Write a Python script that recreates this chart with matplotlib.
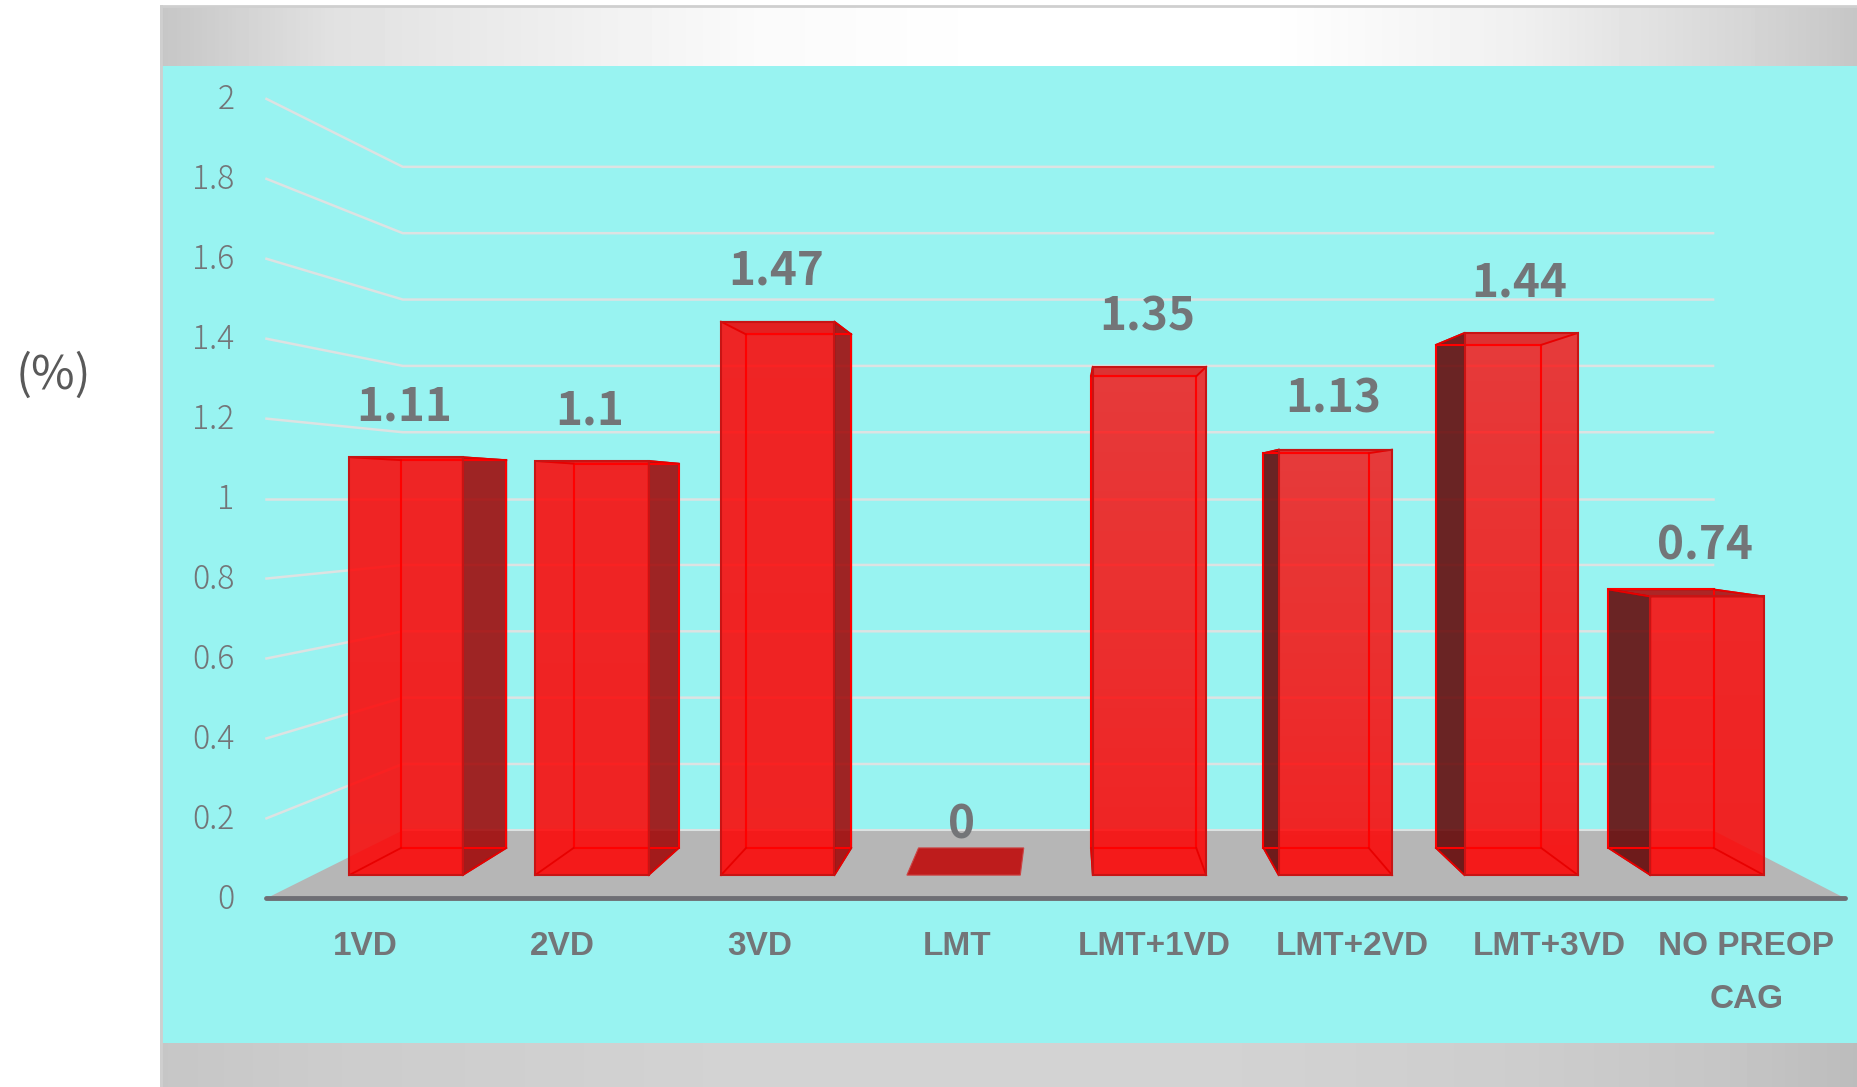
import matplotlib
matplotlib.use('Agg')
import matplotlib.pyplot as plt
from matplotlib.patches import Polygon, Rectangle
import numpy as np

# data
categories = ['1VD', '2VD', '3VD', 'LMT', 'LMT+1VD', 'LMT+2VD', 'LMT+3VD', 'NO PREOP\nCAG']
values = [1.11, 1.1, 1.47, 0, 1.35, 1.13, 1.44, 0.74]
value_labels = ['1.11', '1.1', '1.47', '0', '1.35', '1.13', '1.44', '0.74']
ticks = [0, 0.2, 0.4, 0.6, 0.8, 1, 1.2, 1.4, 1.6, 1.8, 2]
tick_labels = ['0', '0.2', '0.4', '0.6', '0.8', '1', '1.2', '1.4', '1.6', '1.8', '2']

W, H = 1857, 1087
K = W / 1568  # measured on the small view

# perspective set-up
VP_X, VP_Y = 902 * K, 421 * K
LEFT, RIGHT = 225 * K, 1558 * K
UNIT = 337.5 * K
S_WALL, S_BACK, S_FRONT = 0.83, 0.874, 0.942
HALF = 0.305

GREY = '#737578'
CYAN = '#98F3F1'
# the glass gets a bit paler towards the top on the right hand bars
top_alpha = [0.85, 0.85, 0.85, 0.85, 0.76, 0.76, 0.76, 0.84]


def proj(i, v, s):
    # category position i, value v, depth scale s -> pixels
    x0 = LEFT + i * (RIGHT - LEFT) / 8
    return VP_X + s * (x0 - VP_X), VP_Y + s * UNIT * (1 - v)


fig = plt.figure(figsize=(W / 100, H / 100), dpi=100, facecolor='white')
ax = fig.add_axes([0, 0, 1, 1])
ax.set_xlim(0, W)
ax.set_ylim(H, 0)
ax.axis('off')

# background bands
top_x = [0, 0.1, 0.35, 0.5, 0.65, 0.8, 0.93, 1]
top_c = [198, 225, 250, 255, 255, 240, 215, 198]
bot_c = [198, 204, 211, 212, 210, 205, 197, 188]
xs = np.linspace(0, 1, 400)
top_g = np.interp(xs, top_x, top_c)[None, :]
bot_g = np.interp(xs, top_x, bot_c)[None, :]
ax.imshow(top_g, extent=[160, W, 66, 6], cmap='gray', vmin=0, vmax=255, aspect='auto', zorder=1)
ax.imshow(bot_g, extent=[160, W, H, 1043], cmap='gray', vmin=0, vmax=255, aspect='auto', zorder=1)
ax.set_xlim(0, W)
ax.set_ylim(H, 0)
ax.add_patch(Rectangle((160, 66), W - 160, 1043 - 66, fc=CYAN, ec='none', zorder=1))
ax.plot([161, 161], [H, 6], color='#cfcfcf', lw=2, zorder=2)
ax.plot([161, W], [6, 6], color='#cfcfcf', lw=2, zorder=2)

# floor
floor = [proj(0, 0, 1), proj(8, 0, 1), proj(8, 0, S_WALL), proj(0, 0, S_WALL)]
ax.add_patch(Polygon(floor, fc='#B6B6B6', ec='none', zorder=2))
ax.plot(*zip(proj(0, 0, S_WALL), proj(8, 0, S_WALL)), color='#DDE2E2', lw=1.5, zorder=2)

# gridlines on the walls
for t in ticks[1:]:
    pts = [proj(0, t, 1), proj(0, t, S_WALL), proj(8, t, S_WALL)]
    ax.plot(*zip(*pts), color='#DDE2E2', lw=1.8, zorder=2)

# bars
for i, v in enumerate(values):
    a = i + 0.5 - HALF
    b = i + 0.5 + HALF
    front = [proj(a, 0, S_FRONT), proj(b, 0, S_FRONT), proj(b, v, S_FRONT), proj(a, v, S_FRONT)]
    back = [proj(a, 0, S_BACK), proj(b, 0, S_BACK), proj(b, v, S_BACK), proj(a, v, S_BACK)]
    top = [front[3], front[2], back[2], back[3]]
    if v == 0:
        ax.add_patch(Polygon(top, fc='#BE1C1C', ec='#C44', lw=0.8, zorder=3))
        continue
    # which side shows depends on the side of the vanishing point
    if front[1][0] < VP_X:
        side = [front[1], back[1], back[2], front[2]]
        side_c = '#A00000'
    else:
        side = [front[0], back[0], back[3], front[3]]
        side_c = '#620000'
    ax.add_patch(Polygon(side, fc=side_c, ec='#8A1010', alpha=0.85, lw=1.2, zorder=3))
    ax.add_patch(Polygon(top, fc='#B01010', ec='#C00000', alpha=0.9 if v < 1 else 0.18, lw=1.2, zorder=5))

    # front face with a vertical alpha ramp
    rgba = np.zeros((100, 1, 4))
    rgba[:, :, 0] = 1
    rgba[:, 0, 3] = np.linspace(top_alpha[i], 0.86, 100)
    im = ax.imshow(rgba, extent=[front[0][0], front[1][0], front[0][1], front[2][1]],
                   aspect='auto', zorder=4, interpolation='bilinear')
    im.set_clip_path(Polygon(front, transform=ax.transData))
    ax.set_xlim(0, W)
    ax.set_ylim(H, 0)

    ax.add_patch(Polygon(front, fc='none', ec='#C81414', lw=1.5, zorder=6))
    # inner edges seen through the glass
    ax.add_patch(Polygon(back, fc='none', ec='#FF0000', lw=1.5, zorder=5))
    for k in range(4):
        ax.plot(*zip(front[k], back[k]), color='#E80000', lw=1.3, zorder=5)

# axis line
ax.plot(*zip(proj(0, 0, 1), proj(8, 0, 1)), color='#6E6E74', lw=3.5, solid_capstyle='round', zorder=6)

# value labels
for i, lab in enumerate(value_labels):
    x, y = proj(i + 0.5, values[i], S_FRONT)
    ax.text(x - 2, y - 42 * K, lab, ha='center', va='center', color=GREY, fontsize=33,
            fontweight='bold', family='Noto Sans CJK JP', zorder=7)

# tick labels
for t, lab in zip(ticks, tick_labels):
    x, y = proj(0, t, 1)
    ax.text(x - 27 * K, y + 1, lab, ha='right', va='center', color=GREY, fontsize=23,
            fontweight='light', family='Noto Sans CJK JP', zorder=7)

# category labels
for i, lab in enumerate(categories):
    x, y = proj(i + 0.5, 0, 1)
    ax.text(x, y + 28 * K, lab, ha='center', va='top', color=GREY, fontsize=24,
            fontweight='bold', family='Liberation Sans', linespacing=1.9, zorder=7)

ax.text(45 * K, 317 * K, '(%)', ha='center', va='center', color='#595959', fontsize=34,
        family='Noto Sans CJK JP', zorder=7)

fig.savefig('out.png', dpi=100)
